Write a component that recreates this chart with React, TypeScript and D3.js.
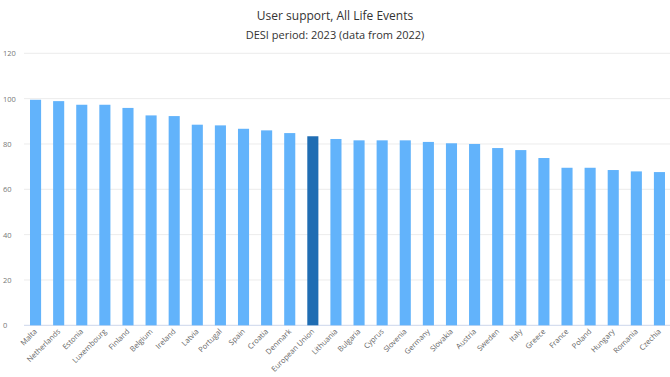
import React from "react";
import * as d3 from "d3";

const countries = ["Malta","Netherlands","Estonia","Luxembourg","Finland","Belgium","Ireland","Latvia","Portugal","Spain","Croatia","Denmark","European Union","Lithuania","Bulgaria","Cyprus","Slovenia","Germany","Slovakia","Austria","Sweden","Italy","Greece","France","Poland","Hungary","Romania","Czechia"];
const values = [99.5,98.9,97.3,97.3,95.9,92.6,92.3,88.5,88.2,86.7,86.0,84.8,83.4,82.2,81.6,81.6,81.6,80.9,80.3,80.0,78.2,77.3,73.8,69.5,69.5,68.5,67.9,67.6];
const yTicks = [0,20,40,60,80,100,120];
const highlight = "European Union";
const title = "User support, All Life Events";
const subtitle = "DESI period: 2023 (data from 2022)";

const W = 670, H = 377;
const left = 24, right = 671, top = 53.3, bottom = 325.3;

export default function App() {
  const x = d3.scaleBand<string>().domain(countries).range([left, right]).paddingInner(0.52).paddingOuter(0.26);
  const y = d3.scaleLinear().domain([0, 120]).range([bottom, top]);
  const font = "'Open Sans', 'DejaVu Sans', sans-serif";
  return (
    <svg width={W} height={H} style={{ position: "absolute", left: 0, top: 0, background: "#fff" }} fontFamily={font}>
      <text x={335} y={20} textAnchor="middle" fontSize={12} fill="#333">{title}</text>
      <text x={335} y={39} textAnchor="middle" fontSize={11} fill="#333">{subtitle}</text>
      {yTicks.map(t => (
        <g key={t}>
          <line x1={left} x2={W} y1={y(t)} y2={y(t)} stroke={t === 0 ? "#ccd6eb" : "#ececec"} strokeWidth={1} />
          <text x={3} y={y(t) + 3} fontSize={7.5} fill="#777">{t}</text>
        </g>
      ))}
      {countries.map((c, i) => (
        <rect key={c} x={x(c)} y={y(values[i])} width={x.bandwidth()} height={y(0) - y(values[i])}
          fill={c === highlight ? "#1f6db3" : "#62b3fb"} />
      ))}
      {countries.map(c => {
        const cx = (x(c) as number) + x.bandwidth() / 2 + 2;
        const cy = 332;
        return (
          <text key={c} x={cx} y={cy} textAnchor="end" fontSize={7.5} fill="#666"
            transform={`rotate(-45 ${cx} ${cy})`}>{c}</text>
        );
      })}
    </svg>
  );
}
